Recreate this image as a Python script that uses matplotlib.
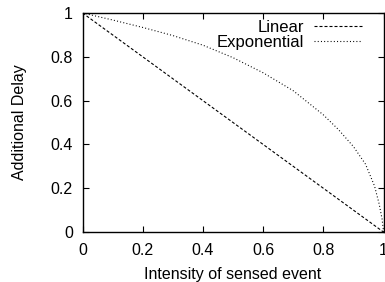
# -*- coding: utf-8 -*-
import numpy as np
import matplotlib
matplotlib.use("Agg")
import matplotlib.pyplot as plt

plt.rcParams['font.family'] = ['Liberation Sans', 'DejaVu Sans']

# Linear curve
lin_x = [0.0, 1.0]
lin_y = [1.0, 0.0]

# Exponential curve
exp_x = [0.0, 0.1, 0.2, 0.3, 0.4, 0.5, 0.6, 0.7, 0.8, 0.85, 0.9, 0.94, 0.97, 0.985, 0.995, 1.0]
exp_y = [1.0, 0.968, 0.934, 0.897, 0.853, 0.796, 0.727, 0.645, 0.535, 0.468, 0.39, 0.31, 0.21, 0.13, 0.06, 0.0]

xticks = [0, 0.2, 0.4, 0.6, 0.8, 1]
yticks = [0, 0.2, 0.4, 0.6, 0.8, 1]

fig = plt.figure(figsize=(3.85, 2.82), dpi=100)
ax = fig.add_axes([0.2143, 0.177, 0.782, 0.777])

ax.plot(lin_x, lin_y, color='black', lw=0.8, dashes=(2.7, 1.8), label='Linear')
ax.plot(exp_x, exp_y, color='black', lw=0.8, dashes=(0.9, 2.0), label='Exponential')

ax.set_xlim(0, 1)
ax.set_ylim(0, 1)
ax.set_xticks(xticks)
ax.set_yticks(yticks)
ax.set_xticklabels([f'{v:g}' for v in xticks])
ax.set_yticklabels([f'{v:g}' for v in yticks])
ax.tick_params(direction='in', length=4, width=0.8, top=True, right=True, labelsize=11.5)
ax.tick_params(axis='x', pad=8)
ax.tick_params(axis='y', pad=7)
for s in ax.spines.values():
    s.set_linewidth(1.0)

ax.set_xlabel('Intensity of sensed event', fontsize=11.5, labelpad=6)
ax.set_ylabel('Additional Delay', fontsize=11.5, labelpad=17)

leg = ax.legend(loc='upper right', frameon=False, fontsize=12, markerfirst=False,
                handlelength=2.9, handletextpad=0.6, labelspacing=0.0,
                borderaxespad=0.2, borderpad=0.1, bbox_to_anchor=(0.945, 0.99))
# right-justify the entries like gnuplot
leg._legend_handle_box.get_children()[0].align = 'right'

fig.savefig('out.png', dpi=100)
